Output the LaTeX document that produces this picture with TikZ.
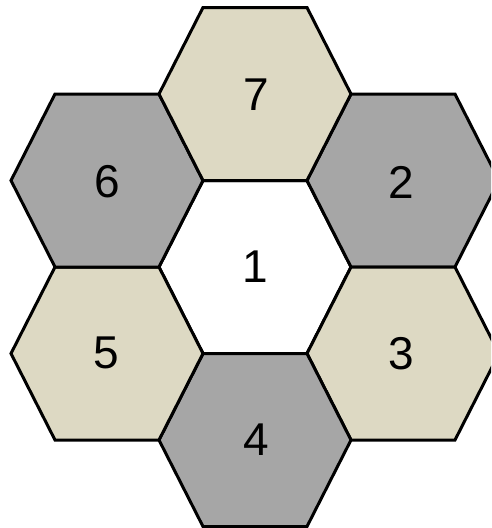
\documentclass[tikz,border=0pt]{standalone}
\usepackage{fontspec}
\setmainfont{Liberation Sans}
\definecolor{hextan}{HTML}{DDD9C3}
\definecolor{hexgray}{HTML}{A6A6A6}
\begin{document}
\begin{tikzpicture}[x=1pt,y=-1pt, every node/.style={font=\fontsize{46}{52}\selectfont}]
        \useasboundingbox (0,0) rectangle (491,528);
        \begin{scope}
        \clip (0,0) rectangle (491,528);
        \foreach \n/\cx/\cy/\c in {1/255/267/white,2/403/180.5/hexgray,3/403/353.5/hextan,4/255/440/hexgray,5/107/353.5/hextan,6/107/180.5/hexgray,7/255/94/hextan}
            \filldraw[fill=\c, line width=3pt, line join=miter]
                (\cx-96,\cy) -- (\cx-52,\cy-86.5) -- (\cx+52,\cy-86.5) -- (\cx+96,\cy)
                -- (\cx+52,\cy+86.5) -- (\cx-52,\cy+86.5) -- cycle;
        \end{scope}
        \foreach \n/\cx/\cy in {1/255/267,2/401/182,3/401/354,4/256/440,5/106/353,6/107/182,7/256/95}
            \node (h\n) at (\cx,\cy) {\n};
    \end{tikzpicture}
\end{document}
